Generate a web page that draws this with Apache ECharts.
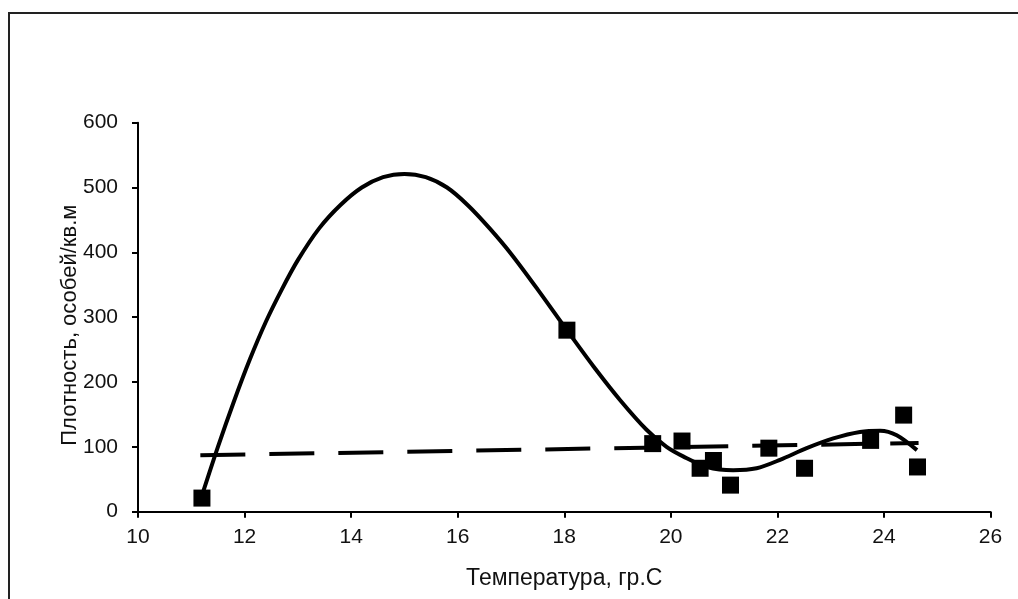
<!DOCTYPE html>
<html>
<head>
<meta charset="utf-8">
<script src="https://cdn.jsdelivr.net/npm/echarts@6/dist/echarts.min.js"></script>
<style>
html,body{margin:0;padding:0;background:#fff;}
#chart{width:1018px;height:599px;}
</style>
</head>
<body>
<div id="chart"></div>
<script>
// Observed points (temperature, density)
const obsX = [11.2, 18.05, 19.66, 20.21, 20.55, 20.8, 21.12, 21.84, 22.51, 23.75, 24.37, 24.63];
const obsY = [21, 280, 105, 109, 67, 79, 41, 98, 67, 110, 149, 69];

// Polynomial trend curve
const curveX = [11.2, 11.5, 11.8, 12.1, 12.4, 12.7, 13.0, 13.4, 13.8, 14.2, 14.6, 15.0, 15.4, 15.8, 16.2, 16.6, 17.0, 17.5, 18.05, 18.55, 19.05, 19.55, 19.92, 20.24, 20.68, 21.17, 21.61, 22.05, 22.55, 23.05, 23.55, 23.93, 24.24, 24.62];
const curveY = [25, 100, 170, 235, 293, 343, 388, 437, 473, 500, 516, 521, 516, 500, 472, 437, 398, 343, 280, 224, 172, 126, 100, 85, 69, 64, 67, 80, 98, 113, 123, 125, 118, 95];

// Linear trend line end points
const linX = [11.17, 24.65];
const linY = [87, 106];

// Axis ticks
const xTicks = [10, 12, 14, 16, 18, 20, 22, 24, 26];
const yTicks = [0, 100, 200, 300, 400, 500, 600];

const xTitle = 'Температура, гр.С';
const yTitle = 'Плотность, особей/кв.м';

const zip = (a, b) => a.map((v, i) => [v, b[i]]);
const font = '"Liberation Sans", Arial, sans-serif';

const chart = echarts.init(document.getElementById('chart'), null, {renderer: 'canvas'});
chart.setOption({
  animation: false,
  backgroundColor: '#fff',
  graphic: [{
    type: 'rect',
    shape: {x: 9, y: 13, width: 1030, height: 620},
    style: {fill: 'none', stroke: '#222', lineWidth: 2},
    silent: true, z: -1
  }],
  grid: {left: 138, right: 27.5, top: 122.7, bottom: 87.3, containLabel: false},
  xAxis: {
    type: 'value',
    min: xTicks[0], max: xTicks[xTicks.length - 1], interval: 2,
    name: xTitle, nameLocation: 'middle', nameGap: 55,
    nameTextStyle: {fontFamily: font, fontSize: 23, color: '#111'},
    axisLine: {show: true, onZero: false, lineStyle: {color: '#000', width: 2}},
    axisTick: {show: true, length: 6, lineStyle: {color: '#000', width: 2}},
    axisLabel: {margin: 15, fontFamily: font, fontSize: 21, color: '#111'},
    splitLine: {show: false}
  },
  yAxis: {
    type: 'value',
    min: yTicks[0], max: yTicks[yTicks.length - 1], interval: 100,
    name: yTitle, nameLocation: 'middle', nameGap: 57, nameRotate: 90,
    nameMoveOverlap: false,
    nameTextStyle: {fontFamily: font, fontSize: 22, color: '#111', padding: [0, 16, 0, 0]},
    axisLine: {show: true, lineStyle: {color: '#000', width: 2}},
    axisTick: {show: true, length: 6, lineStyle: {color: '#000', width: 2}},
    axisLabel: {margin: 20, fontFamily: font, fontSize: 21, color: '#111'},
    splitLine: {show: false}
  },
  series: [
    {
      type: 'scatter',
      data: zip(obsX, obsY),
      symbol: 'rect', symbolSize: 17,
      itemStyle: {color: '#000', opacity: 1},
      z: 3
    },
    {
      type: 'line',
      data: zip(curveX, curveY),
      smooth: 0.3, showSymbol: false, symbol: 'none',
      lineStyle: {color: '#000', width: 4},
      z: 4
    },
    {
      type: 'line',
      data: zip(linX, linY),
      showSymbol: false, symbol: 'none',
      lineStyle: {color: '#000', width: 4, type: [45, 24]},
      z: 4
    }
  ]
});
</script>
</body>
</html>
